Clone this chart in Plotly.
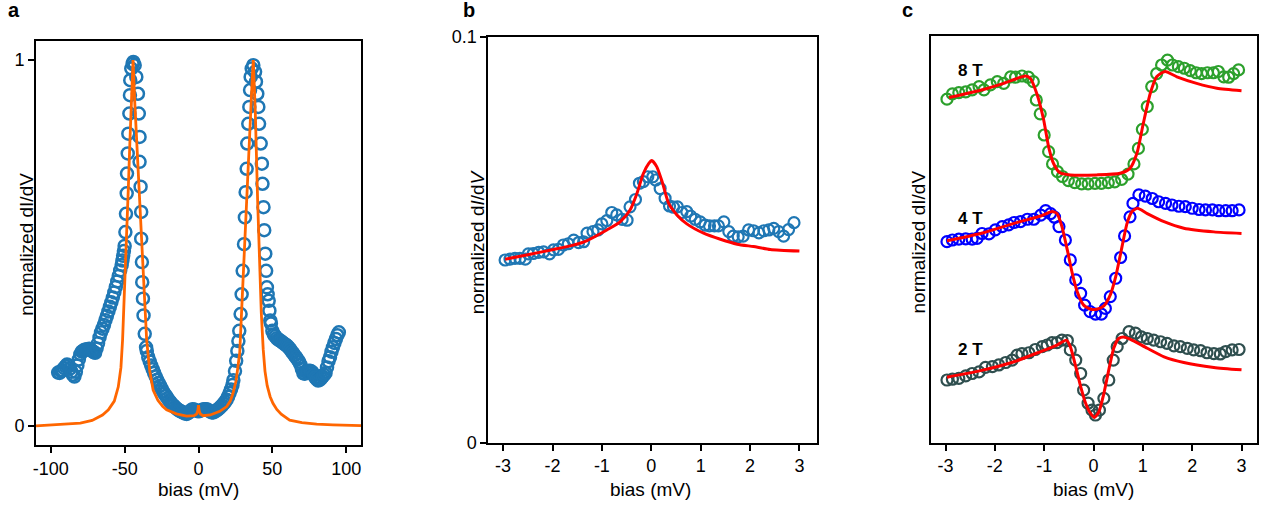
import plotly.graph_objects as go

W, H = 1267, 508

# ---------------- Panel a data ----------------
a_x = [-95, -94, -93, -92, -91, -90, -89, -88, -87, -86, -85, -84, -83, -82, -81, -80, -79, -78,
       -77, -76, -75, -74, -73, -72, -71, -70, -69, -68, -67, -66, -65, -64, -63, -62, -61, -60,
       -59, -58, -57, -56, -55, -54, -53, -52, -51.5, -51, -50.5, -50,
       -49.5, -49.1, -48.6, -48.4, -47.9, -47.5, -46.8, -46.4, -46.2, -45.5, -44.6, -44.1, -43.2,
       -42.1, -41.0, -40.4, -39.9, -39.9, -39.2, -38.8, -38.8, -38.3, -38.1, -37.6, -37.2, -36.4,
       -35.5, -35, -34, -33, -32, -31, -30, -29, -28, -27, -26, -25, -24, -23, -22, -21, -20, -19,
       -18, -17, -16, -15, -14, -13, -12, -11, -10, -9, -8, -7, -6, -5, -4, -3, -2, -1, 0, 1, 2, 3,
       4, 5, 6, 7, 8, 9, 10, 11, 12, 13, 14, 15, 16, 17, 18, 19, 20, 21, 22, 23,
       23.6, 24.7, 25.5, 26.3, 27, 27.6, 28.5, 29.2, 29.9,
       30.8, 31.4, 31.9, 32.6, 33.0, 33.7, 34.4, 34.9, 35.3, 36.0, 37.1, 38.3, 38.9, 39.8, 40.5, 41.0,
       42.1, 42.9, 43.3, 44.0, 44.5, 45.2, 45.8, 46.3, 46.8, 47.5, 48.0, 48.6,
       49, 50, 51, 52, 53, 54, 55, 56, 57, 58, 59, 60, 61, 62, 63, 64, 65, 66, 67, 68, 69, 70, 71,
       72, 73, 74, 75, 76, 77, 78, 79, 80, 81, 82, 83, 84, 85, 86, 87, 88, 89, 90, 91, 92, 93, 94, 95]
a_y = [0.146, 0.145, 0.150, 0.152, 0.158, 0.163, 0.168, 0.165, 0.157, 0.148, 0.140, 0.135, 0.148,
       0.165, 0.182, 0.196, 0.203, 0.206, 0.208, 0.209, 0.210, 0.211, 0.209, 0.205, 0.202, 0.200,
       0.212, 0.226, 0.242, 0.256, 0.266, 0.276, 0.289, 0.301, 0.313, 0.326, 0.338, 0.351, 0.365,
       0.380, 0.395, 0.410, 0.425, 0.440, 0.452, 0.465, 0.478, 0.492,
       0.530, 0.580, 0.636, 0.690, 0.745, 0.799, 0.854, 0.904, 0.945, 0.977, 0.990, 0.995, 0.986,
       0.954, 0.908, 0.854, 0.790, 0.722, 0.654, 0.585, 0.512, 0.448, 0.393, 0.348, 0.302, 0.252,
       0.215, 0.205, 0.188, 0.176, 0.165, 0.155, 0.145, 0.135, 0.126, 0.118, 0.110, 0.102, 0.094,
       0.088, 0.082, 0.076, 0.070, 0.065, 0.060, 0.056, 0.052, 0.048, 0.045, 0.042, 0.040, 0.038,
       0.036, 0.034, 0.033, 0.035, 0.039, 0.043, 0.046, 0.045, 0.043, 0.041, 0.040, 0.041, 0.043,
       0.045, 0.046, 0.046, 0.045, 0.042, 0.039, 0.037, 0.037, 0.039, 0.042, 0.045, 0.048, 0.052,
       0.056, 0.061, 0.066, 0.072, 0.080, 0.090, 0.100, 0.112,
       0.125, 0.150, 0.178, 0.205, 0.232, 0.260, 0.306, 0.360, 0.424,
       0.497, 0.570, 0.639, 0.703, 0.772, 0.826, 0.872, 0.918, 0.954, 0.977, 0.986, 0.968, 0.941,
       0.908, 0.872, 0.826, 0.772, 0.717, 0.662, 0.598, 0.535, 0.471, 0.424, 0.379, 0.360, 0.342,
       0.315, 0.288,
       0.280, 0.260, 0.250, 0.245, 0.240, 0.236, 0.234, 0.231, 0.228, 0.225, 0.222, 0.219, 0.215,
       0.210, 0.204, 0.199, 0.193, 0.188, 0.182, 0.176, 0.168, 0.156, 0.144, 0.143, 0.147, 0.150,
       0.151, 0.150, 0.147, 0.140, 0.133, 0.128, 0.124, 0.126, 0.130, 0.135, 0.140, 0.145, 0.160,
       0.177, 0.188, 0.203, 0.215, 0.227, 0.238, 0.248, 0.256]

a_fit_x = [-110, -100, -90, -80, -72, -68.9, -65, -61, -57, -54.3, -52.5, -51.4, -50, -48.6,
           -47.5, -46.4, -45.3, -44.3, -43.2, -41.9, -40.2, -38.5, -36.8, -35.1, -33, -30.7, -27.5,
           -24.3, -21.6, -15, -8.1, -3, -1.2, -0.4, 0, 0.4, 1.2, 3, 8, 14.4, 19.1, 21.5, 23.4, 25.5,
           27.9, 29.0, 30.1, 31.4, 32.5, 33.7, 34.8, 35.8, 36.5, 37.1, 38.5, 40.0, 41.3, 42.5, 43.8,
           45.0, 46.5, 48.5, 50.4, 53, 56, 61.7, 70, 80, 91, 110]
a_fit_y = [0.0, 0.002, 0.004, 0.008, 0.015, 0.021, 0.030, 0.044, 0.068, 0.107, 0.160, 0.235,
           0.37, 0.508, 0.65, 0.781, 0.90, 1.0, 0.89, 0.78, 0.64, 0.508, 0.36, 0.235, 0.15, 0.098,
           0.07, 0.054, 0.044, 0.033, 0.027, 0.028, 0.033, 0.043, 0.057, 0.043, 0.033, 0.028, 0.030,
           0.040, 0.053, 0.068, 0.090, 0.125, 0.200, 0.30, 0.417, 0.52, 0.62, 0.72, 0.81, 0.90, 0.96,
           1.0, 0.85, 0.62, 0.44, 0.31, 0.21, 0.15, 0.11, 0.08, 0.062, 0.045, 0.032, 0.016, 0.009,
           0.005, 0.003, 0.001]

# ---------------- Panel b data ----------------
b_x = [-2.96, -2.86, -2.76, -2.66, -2.55, -2.49, -2.39, -2.28, -2.18, -2.06, -1.98, -1.88, -1.78,
       -1.68, -1.57, -1.47, -1.37, -1.30, -1.18, -1.08, -1.00, -0.90, -0.80, -0.70, -0.59, -0.49,
       -0.43, -0.32, -0.24, -0.16, -0.07, 0.03, 0.09, 0.18, 0.28, 0.37, 0.45, 0.53, 0.62, 0.72, 0.80,
       0.89, 0.99, 1.09, 1.18, 1.28, 1.36, 1.47, 1.57, 1.66, 1.76, 1.86, 1.97, 2.07, 2.18, 2.28, 2.38,
       2.48, 2.58, 2.68, 2.78, 2.89]
b_y = [0.0450, 0.0452, 0.0454, 0.0454, 0.0452, 0.0465, 0.0466, 0.0469, 0.0470, 0.0465, 0.0475,
       0.0476, 0.0487, 0.0490, 0.0499, 0.0493, 0.0495, 0.0516, 0.0520, 0.0524, 0.0539, 0.0547,
       0.0567, 0.0561, 0.0550, 0.0548, 0.0581, 0.0599, 0.0639, 0.0643, 0.0655, 0.0655, 0.0647,
       0.0626, 0.0602, 0.0583, 0.0580, 0.0581, 0.0567, 0.0569, 0.0558, 0.0550, 0.0544, 0.0536,
       0.0534, 0.0534, 0.0534, 0.0544, 0.0520, 0.0509, 0.0507, 0.0509, 0.0524, 0.0522, 0.0517,
       0.0522, 0.0524, 0.0528, 0.0520, 0.0509, 0.0525, 0.0542]
b_fit_x = [-2.96, -2.5, -1.98, -1.6, -1.3, -0.9, -0.63, -0.43, -0.29, -0.16, -0.05, 0.01, 0.11,
           0.22, 0.35, 0.52, 0.72, 1.06, 1.40, 1.74, 2.07, 2.41, 3.0]
b_fit_y = [0.0452, 0.0463, 0.0476, 0.0486, 0.0498, 0.0524, 0.0544, 0.0573, 0.0614, 0.0663, 0.0688,
           0.0695, 0.0680, 0.0643, 0.0590, 0.0561, 0.0539, 0.0516, 0.0501, 0.0489, 0.0483, 0.0476,
           0.0472]

# ---------------- Panel c data (offset curves, arbitrary units) ----------------
c8_x = [-2.97, -2.86, -2.73, -2.59, -2.46, -2.32, -2.22, -2.09, -1.95, -1.82, -1.68, -1.58, -1.45,
        -1.32, -1.22, -1.16, -1.08, -1.00, -0.91, -0.83, -0.73, -0.63, -0.51, -0.38, -0.24, -0.11,
        0.03, 0.16, 0.30, 0.43, 0.57, 0.70, 0.82, 0.91, 0.99, 1.09, 1.18, 1.28, 1.38, 1.50, 1.60,
        1.72, 1.84, 1.96, 2.08, 2.19, 2.31, 2.43, 2.53, 2.64, 2.74, 2.84, 2.94]
c8_y = [0.844, 0.857, 0.860, 0.862, 0.867, 0.875, 0.867, 0.879, 0.887, 0.883, 0.899, 0.898, 0.901,
        0.898, 0.887, 0.842, 0.808, 0.756, 0.715, 0.685, 0.666, 0.654, 0.644, 0.639, 0.636, 0.636,
        0.637, 0.637, 0.639, 0.641, 0.647, 0.660, 0.685, 0.723, 0.770, 0.826, 0.875, 0.907, 0.928,
        0.940, 0.928, 0.924, 0.920, 0.914, 0.909, 0.907, 0.909, 0.909, 0.912, 0.899, 0.898, 0.907,
        0.916]
c8_fit_x = [-2.93, -2.29, -1.82, -1.38, -1.28, -1.15, -1.01, -0.91, -0.81, -0.68, -0.47, 0.07,
            0.54, 0.74, 0.88, 1.01, 1.15, 1.28, 1.45, 1.69, 2.09, 2.50, 3.0]
c8_fit_y = [0.848, 0.866, 0.883, 0.901, 0.895, 0.858, 0.793, 0.727, 0.686, 0.663, 0.658, 0.658,
            0.662, 0.674, 0.711, 0.785, 0.858, 0.899, 0.912, 0.899, 0.883, 0.871, 0.865]

c4_x = [-2.97, -2.86, -2.73, -2.59, -2.46, -2.36, -2.26, -2.12, -1.99, -1.85, -1.72, -1.61, -1.48,
        -1.34, -1.21, -1.07, -0.97, -0.87, -0.79, -0.70, -0.57, -0.47, -0.36, -0.26, -0.18, -0.07,
        0.04, 0.16, 0.24, 0.34, 0.45, 0.55, 0.63, 0.74, 0.80, 0.92, 1.05, 1.19, 1.32, 1.46, 1.59,
        1.73, 1.86, 2.00, 2.14, 2.27, 2.41, 2.54, 2.68, 2.81, 2.95]
c4_y = [0.494, 0.498, 0.500, 0.501, 0.500, 0.502, 0.514, 0.513, 0.523, 0.531, 0.535, 0.541, 0.543,
        0.549, 0.549, 0.559, 0.570, 0.563, 0.554, 0.531, 0.498, 0.449, 0.400, 0.367, 0.338, 0.322,
        0.316, 0.316, 0.330, 0.359, 0.404, 0.455, 0.508, 0.555, 0.588, 0.609, 0.606, 0.600, 0.592,
        0.588, 0.584, 0.581, 0.580, 0.576, 0.573, 0.572, 0.572, 0.570, 0.570, 0.570, 0.572]
c4_fit_x = [-2.97, -2.29, -1.61, -1.07, -0.84, -0.74, -0.64, -0.53, -0.43, -0.33, -0.20, -0.06,
            0.07, 0.21, 0.34, 0.45, 0.55, 0.68, 0.78, 0.89, 1.09, 1.43, 1.83, 2.44, 3.0]
c4_fit_y = [0.496, 0.514, 0.539, 0.557, 0.568, 0.563, 0.531, 0.473, 0.416, 0.371, 0.338, 0.328,
            0.328, 0.336, 0.363, 0.408, 0.465, 0.539, 0.568, 0.576, 0.563, 0.543, 0.527, 0.518,
            0.514]

c2_x = [-2.97, -2.86, -2.73, -2.59, -2.46, -2.32, -2.19, -2.05, -1.92, -1.78, -1.65, -1.55, -1.45,
        -1.31, -1.18, -1.04, -0.94, -0.84, -0.74, -0.64, -0.53, -0.47, -0.36, -0.26, -0.20, -0.11,
        -0.03, 0.04, 0.12, 0.21, 0.31, 0.40, 0.48, 0.58, 0.72, 0.85, 0.97, 1.09, 1.22, 1.36, 1.49,
        1.63, 1.76, 1.90, 2.03, 2.17, 2.30, 2.44, 2.57, 2.68, 2.81, 2.95]
c2_y = [0.154, 0.156, 0.158, 0.164, 0.170, 0.174, 0.185, 0.187, 0.191, 0.197, 0.203, 0.215, 0.219,
        0.221, 0.229, 0.236, 0.240, 0.246, 0.246, 0.252, 0.251, 0.228, 0.203, 0.170, 0.129, 0.097,
        0.080, 0.068, 0.080, 0.109, 0.154, 0.203, 0.236, 0.256, 0.273, 0.269, 0.260, 0.256, 0.252,
        0.248, 0.244, 0.238, 0.236, 0.232, 0.228, 0.226, 0.221, 0.219, 0.218, 0.224, 0.228, 0.229]
c2_fit_x = [-2.97, -2.29, -1.61, -1.07, -0.74, -0.55, -0.47, -0.36, -0.26, -0.16, -0.06, 0.02,
            0.11, 0.21, 0.31, 0.41, 0.51, 0.61, 0.75, 1.09, 1.43, 1.83, 2.44, 3.0]
c2_fit_y = [0.161, 0.177, 0.199, 0.224, 0.240, 0.252, 0.236, 0.187, 0.138, 0.097, 0.072, 0.062,
            0.076, 0.121, 0.179, 0.232, 0.256, 0.260, 0.254, 0.232, 0.211, 0.197, 0.185, 0.179]

c_labels = ["8 T", "4 T", "2 T"]
c_label_y = [0.914, 0.552, 0.230]

x_ticks_a = [-100, -50, 0, 50, 100]
x_ticklabels_a = ["-100", "-50", "0", "50", "100"]
x_ticks_bc = [-3, -2, -1, 0, 1, 2, 3]
x_ticklabels_bc = ["-3", "-2", "-1", "0", "1", "2", "3"]

# ---------------- Figure ----------------
BLUE = "#1f77b4"
ORANGE = "#ff6600"
RED = "#ff0000"
FONT = "Liberation Sans, Arial, sans-serif"

def open_marker(color, size=10, lw=2):
    return dict(symbol="circle-open", size=size, color=color, line=dict(width=lw, color=color))

fig = go.Figure()
fig.add_trace(go.Scatter(x=a_x, y=a_y, mode="markers", marker=open_marker(BLUE, 12, 2.5),
                         xaxis="x", yaxis="y"))
fig.add_trace(go.Scatter(x=a_fit_x, y=a_fit_y, mode="lines", line=dict(color=ORANGE, width=2.8),
                         xaxis="x", yaxis="y"))
fig.add_trace(go.Scatter(x=b_x, y=b_y, mode="markers", marker=open_marker(BLUE, 11, 2.2),
                         xaxis="x2", yaxis="y2"))
fig.add_trace(go.Scatter(x=b_fit_x, y=b_fit_y, mode="lines",
                         line=dict(color=RED, width=3, shape="spline", smoothing=0.6),
                         xaxis="x2", yaxis="y2"))
for cx, cy, col in [(c8_x, c8_y, "#2ca02c"), (c4_x, c4_y, "#0000ff"), (c2_x, c2_y, "#2f4f4f")]:
    fig.add_trace(go.Scatter(x=cx, y=cy, mode="markers", marker=open_marker(col, 11, 2.2),
                             xaxis="x3", yaxis="y3"))
for fx, fy in [(c8_fit_x, c8_fit_y), (c4_fit_x, c4_fit_y), (c2_fit_x, c2_fit_y)]:
    fig.add_trace(go.Scatter(x=fx, y=fy, mode="lines",
                             line=dict(color=RED, width=3, shape="spline", smoothing=0.6),
                             xaxis="x3", yaxis="y3"))

def px_x(p):
    return p / W

def px_y(p):
    return 1 - p / H

axis_common = dict(showline=True, linecolor="black", linewidth=2, mirror=True,
                   ticks="outside", ticklen=6, tickwidth=1.5, tickcolor="black",
                   showgrid=False, zeroline=False, automargin=False,
                   tickfont=dict(family=FONT, size=18, color="black"))

fig.update_layout(
    template="none",
    width=W, height=H, autosize=False, margin=dict(l=0, r=0, t=0, b=0, pad=0),
    paper_bgcolor="white", plot_bgcolor="white", showlegend=False,
    font=dict(family=FONT, color="black"),
    xaxis=dict(domain=[px_x(36), px_x(361)], range=[-110, 110], tickvals=x_ticks_a,
               ticktext=x_ticklabels_a, anchor="y", **axis_common),
    yaxis=dict(domain=[px_y(445), px_y(40.7)], range=[-0.052, 1.053], tickvals=[0, 1],
               ticktext=["0", "1"], anchor="x", **axis_common),
    xaxis2=dict(domain=[px_x(488.3), px_x(816.7)], range=[-3.3, 3.35], tickvals=x_ticks_bc,
                ticktext=x_ticklabels_bc, anchor="y2", **axis_common),
    yaxis2=dict(domain=[px_y(442.7), px_y(36.7)], range=[0, 0.1], tickvals=[0, 0.1],
                ticktext=["0", "0.1"], anchor="x2", **axis_common),
    xaxis3=dict(domain=[px_x(930.7), px_x(1257.3)], range=[-3.3, 3.32], tickvals=x_ticks_bc,
                ticktext=x_ticklabels_bc, anchor="y3", **axis_common),
    yaxis3=dict(domain=[px_y(442.7), px_y(35.7)], range=[0, 1], tickvals=[], anchor="x3",
                **axis_common),
)

ann = []
# panel letters
for t, xp in [("a", 13.5), ("b", 469), ("c", 907.5)]:
    ann.append(dict(text=f"<b>{t}</b>", x=px_x(xp), y=px_y(10), xref="paper", yref="paper",
                    showarrow=False, xanchor="center", yanchor="middle",
                    font=dict(family=FONT, size=20, color="black")))
# x titles
for xp in [198.7, 650.7, 1093.7]:
    ann.append(dict(text="bias (mV)", x=px_x(xp), y=px_y(489), xref="paper", yref="paper",
                    showarrow=False, xanchor="center", yanchor="middle",
                    font=dict(family=FONT, size=19, color="black")))
# y titles
for txt, xp, yp in [("normalized dI/dV", 25.7, 244), ("normalized d<i>I</i>/d<i>V</i>", 477.3, 242),
                    ("normalized dI/dV", 917.5, 242)]:
    ann.append(dict(text=txt, x=px_x(xp), y=px_y(yp), xref="paper", yref="paper", textangle=-90,
                    showarrow=False, xanchor="center", yanchor="middle",
                    font=dict(family=FONT, size=19, color="black")))
# field labels in panel c
for t, yy in zip(c_labels, c_label_y):
    ann.append(dict(text=f"<b>{t}</b>", x=-2.49, y=yy, xref="x3", yref="y3", showarrow=False,
                    xanchor="center", yanchor="middle",
                    font=dict(family=FONT, size=17, color="black")))
fig.update_layout(annotations=ann)

fig.write_html("out.html")
